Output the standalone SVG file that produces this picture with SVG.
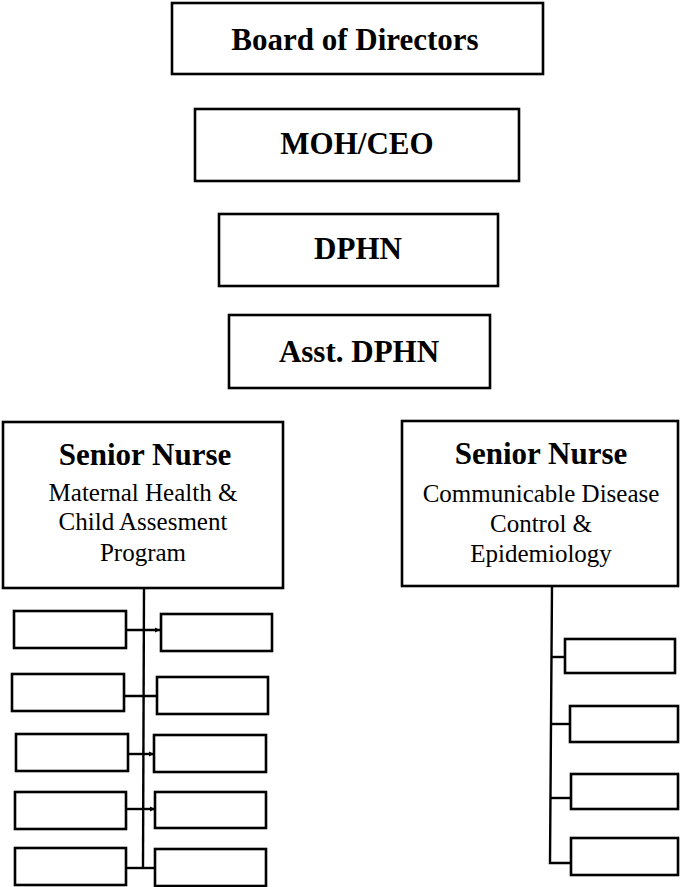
<svg xmlns="http://www.w3.org/2000/svg" width="681" height="887" viewBox="0 0 681 887">
<defs>
<style>
.box{fill:#fff;stroke:#000;stroke-width:2.6}
.ln{fill:none;stroke:#000;stroke-width:2.4}
.t{font-family:"Liberation Serif","Times New Roman",serif;fill:#000;text-anchor:middle}
.b{font-weight:bold;font-size:31px}
.s{font-size:25px}
</style>
<marker id="tk" markerWidth="6" markerHeight="6" refX="5" refY="3" orient="auto" markerUnits="userSpaceOnUse">
<path d="M0,0.5 L5,3 L0,5.5 Z" fill="#000"/>
</marker>
</defs>
<rect width="681" height="887" fill="#fff"/>
<g id="connectors">
<path class="ln" d="M144,588 L143,868"/>
<path class="ln" d="M126,630 L160,630" marker-end="url(#tk)"/>
<path class="ln" d="M124,696 L157,696"/>
<path class="ln" d="M128,754 L154,754" marker-end="url(#tk)"/>
<path class="ln" d="M126,809 L155,809" marker-end="url(#tk)"/>
<path class="ln" d="M126,868 L155,868"/>
<path class="ln" d="M552,586 L550,863 L571,863"/>
<path class="ln" d="M551,657 L565,657"/>
<path class="ln" d="M551,724 L570,724"/>
<path class="ln" d="M550,798 L571,798"/>
</g>
<g id="board"><rect class="box" x="172" y="3" width="371" height="71"/><text class="t b" x="355" y="50">Board of Directors</text></g>
<g id="moh"><rect class="box" x="195" y="109" width="324" height="72"/><text class="t b" x="357" y="154">MOH/CEO</text></g>
<g id="dphn"><rect class="box" x="219" y="214" width="279" height="72"/><text class="t b" x="358" y="259">DPHN</text></g>
<g id="asst"><rect class="box" x="229" y="315" width="261" height="73"/><text class="t b" x="359" y="362">Asst. DPHN</text></g>
<g id="sn-mch"><rect class="box" x="3" y="422" width="280" height="166"/>
<text class="t b" x="145" y="465" font-size="32">Senior Nurse</text>
<text class="t s" x="143" y="501">Maternal Health &amp;</text>
<text class="t s" x="143" y="530">Child Assesment</text>
<text class="t s" x="143" y="561">Program</text></g>
<g id="sn-cdc"><rect class="box" x="402" y="421" width="276" height="165"/>
<text class="t b" x="541" y="464" font-size="32">Senior Nurse</text>
<text class="t s" x="541" y="502">Communicable Disease</text>
<text class="t s" x="541" y="532">Control &amp;</text>
<text class="t s" x="541" y="562">Epidemiology</text></g>
<g id="l1"><rect class="box" x="14" y="611" width="112" height="37"/></g>
<g id="r1"><rect class="box" x="161" y="614" width="111" height="37"/></g>
<g id="l2"><rect class="box" x="12" y="674" width="112" height="37"/></g>
<g id="r2"><rect class="box" x="157" y="677" width="111" height="37"/></g>
<g id="l3"><rect class="box" x="16" y="734" width="112" height="37"/></g>
<g id="r3"><rect class="box" x="154" y="735" width="112" height="37"/></g>
<g id="l4"><rect class="box" x="15" y="792" width="111" height="37"/></g>
<g id="r4"><rect class="box" x="155" y="792" width="111" height="36"/></g>
<g id="l5"><rect class="box" x="15" y="848" width="111" height="37"/></g>
<g id="r5"><rect class="box" x="155" y="849" width="111" height="37"/></g>
<g id="c1"><rect class="box" x="565" y="639" width="110" height="34"/></g>
<g id="c2"><rect class="box" x="570" y="706" width="108" height="36"/></g>
<g id="c3"><rect class="box" x="571" y="774" width="107" height="35"/></g>
<g id="c4"><rect class="box" x="571" y="838" width="107" height="37"/></g>
</svg>
